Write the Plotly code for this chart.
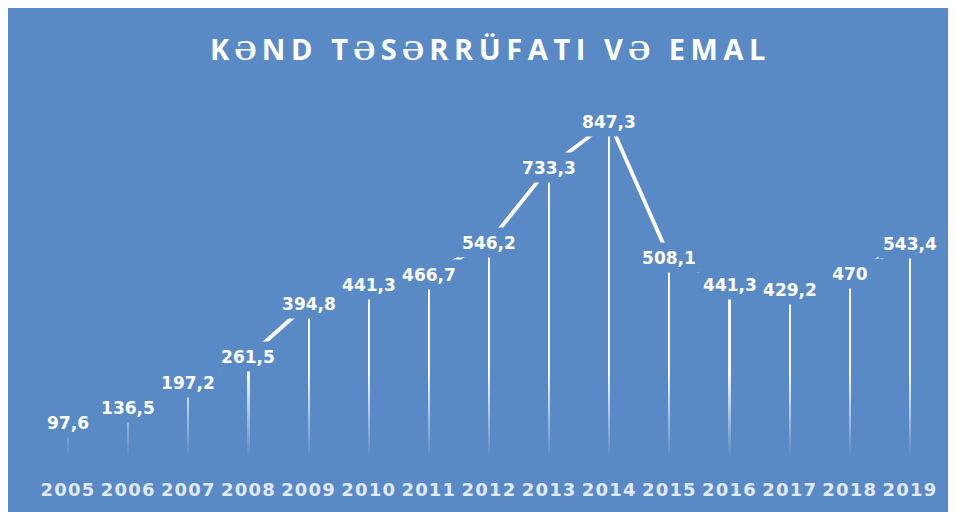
import plotly.graph_objects as go

years = [2005, 2006, 2007, 2008, 2009, 2010, 2011, 2012, 2013, 2014, 2015, 2016, 2017, 2018, 2019]
values = [97.6, 136.5, 197.2, 261.5, 394.8, 441.3, 466.7, 546.2, 733.3, 847.3, 508.1, 441.3, 429.2, 470, 543.4]
labels = ["97,6", "136,5", "197,2", "261,5", "394,8", "441,3", "466,7", "546,2", "733,3",
          "847,3", "508,1", "441,3", "429,2", "470", "543,4"]
title_text = "KƏND TƏSƏRRÜFATI VƏ EMAL"

BG = "#5A8AC6"
BG_RGB = "90,138,198"

W, H = 948, 504
ML, MR, MT, MB = 30, 16, 72, 42
YMIN, YMAX = -5.2, 950.2

fig = go.Figure()

# drop lines
fig.add_trace(go.Bar(x=years, y=values, width=0.036,
                     marker=dict(color="rgba(255,255,255,0.95)", line=dict(width=0)),
                     hoverinfo="skip", showlegend=False))

# fade-out gradient at the bottom of drop lines
fig.add_trace(go.Scatter(
    x=[2004.5, 2019.5, 2019.5, 2004.5, 2004.5],
    y=[YMIN, YMIN, 230, 230, YMIN],
    fill="toself", mode="none", hoverinfo="skip", showlegend=False,
    fillgradient=dict(type="vertical", start=YMIN, stop=230,
                      colorscale=[[0, f"rgba({BG_RGB},1)"], [0.14, f"rgba({BG_RGB},1)"],
                                  [1, f"rgba({BG_RGB},0)"]]),
))

# line
fig.add_trace(go.Scatter(x=years, y=values, mode="lines",
                         line=dict(color="white", width=3.8),
                         hoverinfo="skip", showlegend=False))

for yr, v, t in zip(years, values, labels):
    fig.add_annotation(x=yr, y=v, text=t, showarrow=False, bgcolor=BG, borderpad=1,
                       width=60, height=27, align="center", valign="middle",
                       font=dict(family="DejaVu Sans", size=17, color="white", weight="bold"))

fig.update_layout(
    width=W, height=H,
    margin=dict(l=ML, r=MR, t=MT, b=MB),
    paper_bgcolor=BG, plot_bgcolor=BG,
    title=dict(text='<span style="letter-spacing:5.6px">' + title_text + '</span>',
               x=0.509, xanchor="center", y=1 - 42 / H, yanchor="middle",
               font=dict(family="Open Sans", size=29, color="white", weight=700)),
    xaxis=dict(range=[2004.5, 2019.5], tickmode="array", tickvals=years,
               ticktext=['<span style="letter-spacing:1.2px">' + str(y) + '</span>' for y in years],
               showgrid=False, zeroline=False,
               showline=False, ticks="outside", ticklen=9, tickcolor="rgba(0,0,0,0)",
               tickfont=dict(family="DejaVu Sans", size=18, color="rgb(224,233,246)",
                             weight="bold")),
    yaxis=dict(range=[YMIN, YMAX], visible=False, showgrid=False, zeroline=False),
    showlegend=False,
    bargap=0,
)

fig.write_html("out.html")
